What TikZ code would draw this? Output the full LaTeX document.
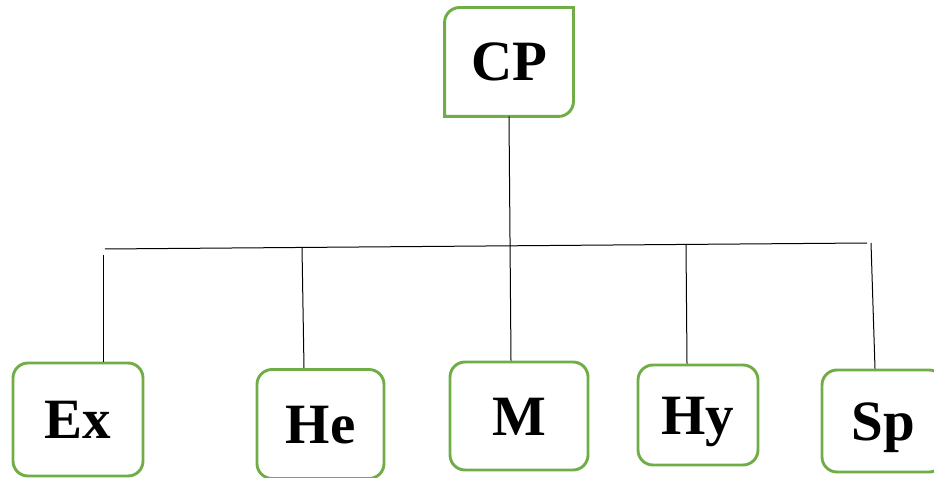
\documentclass[tikz,border=0pt]{standalone}
\usepackage{fontspec}
\setmainfont{Liberation Serif}
\definecolor{boxgreen}{HTML}{70AD47}
\begin{document}
\begin{tikzpicture}[x=1pt,y=-1pt,
  box/.style={draw=boxgreen, line width=2.9pt, rounded corners=15pt,
    font=\fontsize{57}{60}\selectfont\bfseries,
    text height=38pt, text depth=0pt, inner sep=0pt, align=center},
  link/.style={draw=black, line width=1pt}]
\useasboundingbox (0,0) rectangle (934,478);

% root box: only top-left and bottom-right corners are rounded
\node[box, draw=none, minimum width=126pt, minimum height=106pt] (cp) at (509,62) {CP};
\draw[boxgreen, line width=2.9pt]
  (cp.south west) -- ([yshift=-15pt]cp.north west) arc[start angle=180, end angle=90, radius=15pt]
  -- (cp.north east) -- ([yshift=15pt]cp.south east) arc[start angle=0, end angle=-90, radius=15pt]
  -- cycle;

% child boxes
\node[box, minimum width=130pt, minimum height=113pt] (ex) at (78,419.5) {Ex};
\node[box, minimum width=127pt, minimum height=109pt] (he) at (320.5,424) {He};
\node[box, minimum width=138pt, minimum height=108pt] (m)  at (519,416) {M};
\node[box, minimum width=120pt, minimum height=100pt, yshift=0pt] (hy) at (698,415) {Hy};
\node[box, minimum width=122pt, minimum height=102pt] (sp) at (883,421) {Sp};

% horizontal bus
\coordinate (busL) at (105,249);
\coordinate (busR) at (867,243);
\draw[link] (busL) -- (busR);

% drops to the children
\coordinate (tEx) at (103,255);
\coordinate (tHe) at (302,247.5);
\coordinate (tHy) at (686,244);
\coordinate (tSp) at (871,243);
\draw[link] (cp.south) -- ([xshift=-8pt]m.north);
\draw[link] (tEx) -- ([xshift=25pt]ex.north);
\draw[link] (tHe) -- ([xshift=-16.5pt]he.north);
\draw[link] (tHy) -- ([xshift=-11pt]hy.north);
\draw[link] (tSp) -- ([xshift=-8pt]sp.north);
\end{tikzpicture}
\end{document}
